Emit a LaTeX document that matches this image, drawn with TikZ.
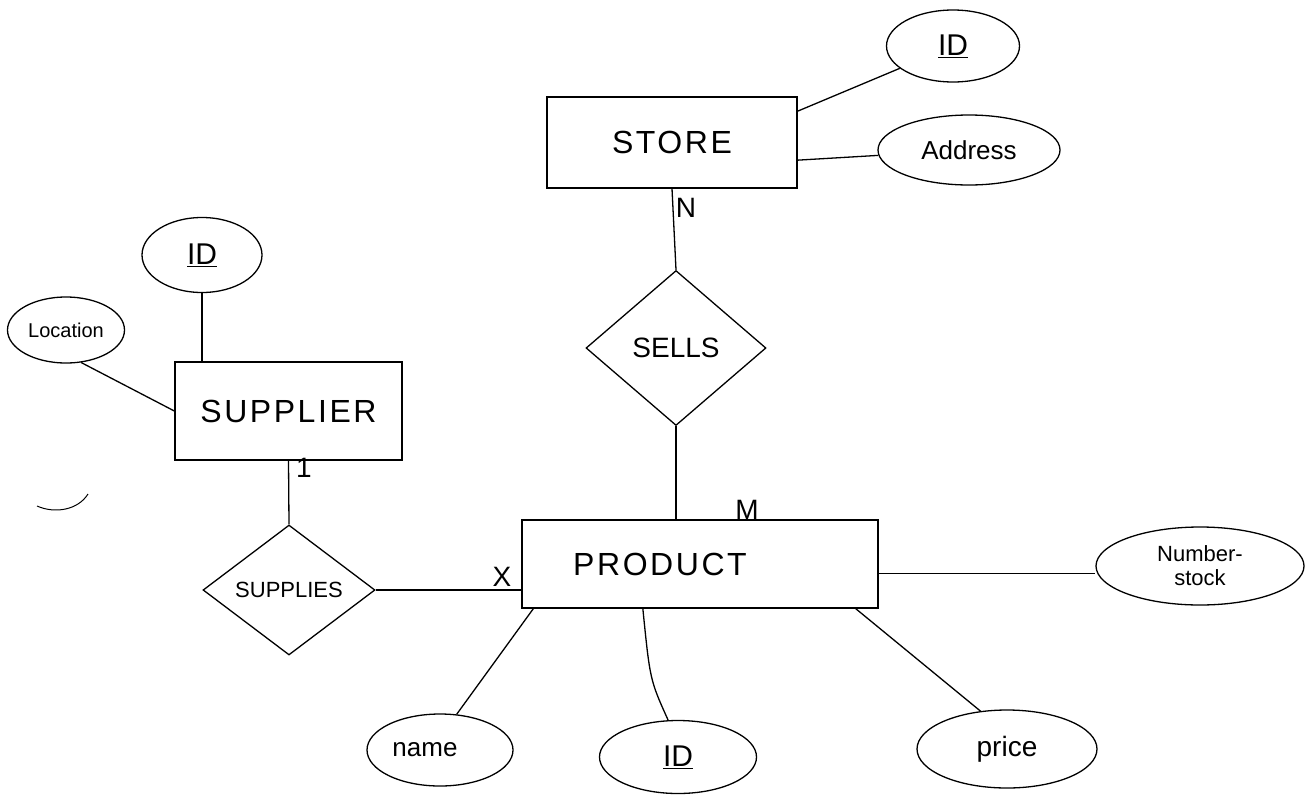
\documentclass[tikz,border=0pt]{standalone}
\usepackage{fontspec}
\setmainfont{Liberation Sans}
\usetikzlibrary{shapes.geometric}
\tikzset{
  ink/.style={line width=1.3pt, black},
  entity/.style={ink, draw, rectangle, inner sep=0pt, font=\fontsize{32}{36}\selectfont\addfontfeature{LetterSpace=8}},
  attr/.style={ink, draw, ellipse, inner sep=0pt, font=\fontsize{26}{28}\selectfont},
  rel/.style={ink, draw, diamond, inner sep=0pt, font=\fontsize{28}{30}\selectfont},
  card/.style={inner sep=0pt, font=\fontsize{28}{30}\selectfont},
  conn/.style={ink}
}
\begin{document}
\begin{tikzpicture}[x=1pt, y=-1pt]
\useasboundingbox (0,0) rectangle (1308,798);
\fill[white] (0,0) rectangle (1308,798);

% entities
\node[entity, minimum width=250pt, minimum height=91pt] (store) at (672,142.5) {STORE};
\node[entity, minimum width=227pt, minimum height=98pt] (supplier) at (288.5,411) {SUPPLIER};
\node[entity, minimum width=356pt, minimum height=88pt] (product) at (700,564) {\hspace*{-80pt}PRODUCT};

% relationships
\node[rel, minimum width=180pt, minimum height=155pt] (sells) at (676,348) {SELLS};
\node[rel, minimum width=172pt, minimum height=130pt, font=\fontsize{22}{26}\selectfont] (supplies) at (289,590) {SUPPLIES};

% attributes
\node[attr, minimum width=133pt, minimum height=72pt, font=\fontsize{30}{32}\selectfont] (storeid) at (953,46) {\underline{ID}};
\node[attr, minimum width=182pt, minimum height=70pt] (address) at (969,150) {Address};
\node[attr, minimum width=120pt, minimum height=75pt, font=\fontsize{30}{32}\selectfont] (supid) at (202,255) {\underline{ID}};
\node[attr, minimum width=117pt, minimum height=66pt, font=\fontsize{20}{22}\selectfont] (location) at (66,330) {Location};
\node[attr, minimum width=208pt, minimum height=78pt, font=\fontsize{22}{24}\selectfont, align=center] (nstock) at (1200,566) {Number-\\stock};
\node[attr, minimum width=146pt, minimum height=72pt] (pname) at (440,750) {\hspace*{-30pt}name};
\node[attr, minimum width=157pt, minimum height=73pt, font=\fontsize{30}{32}\selectfont] (pid) at (678,757) {\underline{ID}};
\node[attr, minimum width=180pt, minimum height=78pt, font=\fontsize{28}{30}\selectfont] (price) at (1007,749) {price};

% connectors
\draw[conn] (store.14.6) -- (storeid);
\draw[conn] (store.-8) -- (address);
\draw[conn] (store.south) -- (sells.north);
\draw[conn] (sells.south) -- (sells.south |- product.north);
\draw[conn] (supid.south) -- (supid.south |- supplier.north);
\draw[conn] (location.-65) -- (supplier.west);
\draw[conn] (supplier.south) -- (supplies.north);
\draw[conn] (supplies.east) -- (supplies.east -| product.west);
\draw[conn] (product.-3.5) -- (product.-3.5 -| nstock.west);
\draw[conn] (product.195.8) -- (pname.65);
\draw[conn] (product.218.7) .. controls (650,680) .. (pid.105);
\draw[conn] (product.344.4) -- (price.125);

% cardinalities
\node[card] (cardN) at (686,208) {N};
\node[card] (cardM) at (747,510) {M};
\node[card] (card1) at (304,468) {1};
\node[card] (cardX) at (502,577) {X};

% stray mark
\draw[line width=1pt] (37,506) .. controls (55,514) and (78,510) .. (88,494);
\end{tikzpicture}
\end{document}
